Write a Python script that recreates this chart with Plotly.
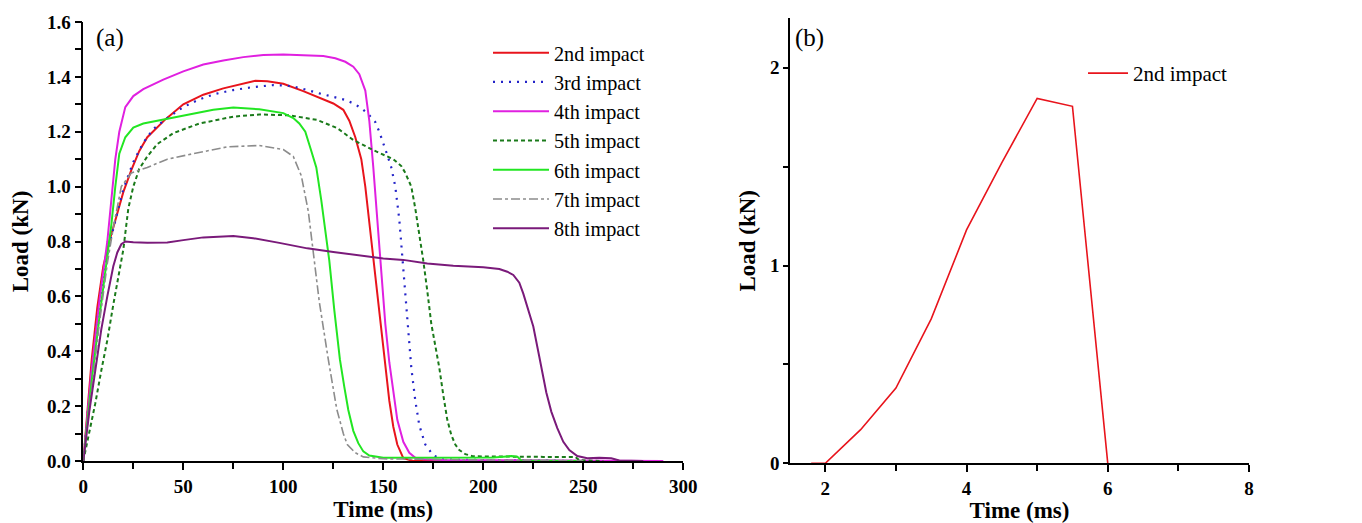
import plotly.graph_objects as go

# ---------------- Panel (a) data: Time (ms) vs Load (kN) ----------------
t_2nd = [0, 2, 4.2, 7, 10, 13, 16, 20, 24, 28, 32, 41, 50, 60, 70, 80, 86, 92, 100, 110, 118, 125, 130, 133, 136, 139, 141, 143, 145, 147, 149, 151, 153, 155, 157, 160, 165, 250]
L_2nd = [0, 0.18, 0.37, 0.56, 0.71, 0.8, 0.88, 0.98, 1.06, 1.13, 1.18, 1.245, 1.3, 1.335, 1.358, 1.376, 1.386, 1.384, 1.375, 1.348, 1.325, 1.303, 1.28, 1.24, 1.18, 1.1, 1.0, 0.87, 0.73, 0.6, 0.46, 0.33, 0.22, 0.125, 0.06, 0.01, 0.0, 0.0]

t_3rd = [0, 2, 4.5, 7, 10, 13, 16, 20, 25, 30, 35, 41, 50, 58, 66, 75, 85, 95, 102, 108, 118, 125, 131, 136, 140, 143, 146, 148, 150, 152, 154, 156, 158, 160, 162, 164, 166, 168, 171, 175, 180, 250]
L_3rd = [0, 0.16, 0.35, 0.52, 0.68, 0.79, 0.88, 0.99, 1.09, 1.16, 1.21, 1.245, 1.29, 1.318, 1.338, 1.352, 1.363, 1.37, 1.368, 1.36, 1.34, 1.328, 1.316, 1.3, 1.28, 1.26, 1.235, 1.2, 1.16, 1.115, 1.07, 1.0, 0.88, 0.7, 0.49, 0.34, 0.22, 0.13, 0.06, 0.02, 0.005, 0.0]

t_4th = [0, 4, 8, 12, 14, 16, 18, 21, 25, 30, 40, 50, 60, 70, 80, 90, 100, 110, 120, 126, 131, 135, 138, 141, 143, 145, 147, 149, 151, 153, 155, 157, 160, 163, 166, 170, 180, 250, 290]
L_4th = [0, 0.32, 0.58, 0.8, 0.95, 1.1, 1.2, 1.29, 1.33, 1.355, 1.39, 1.42, 1.445, 1.46, 1.472, 1.48, 1.482, 1.48, 1.476, 1.468, 1.455, 1.437, 1.41, 1.35, 1.24, 1.07, 0.88, 0.68, 0.5, 0.36, 0.25, 0.15, 0.07, 0.03, 0.012, 0.006, 0.004, 0.003, 0.0]

t_5th = [0, 3, 6, 9, 12, 15, 18, 20, 22.5, 25, 28, 32, 37, 45, 58, 75, 88, 103, 117, 127, 135, 145, 155, 159, 161, 164, 166, 168, 170, 172, 174, 176, 178, 180, 182, 184, 186, 188, 191, 195, 210, 230, 246, 248, 260]
L_5th = [0, 0.1, 0.21, 0.33, 0.44, 0.57, 0.69, 0.77, 0.92, 1.0, 1.065, 1.11, 1.155, 1.195, 1.23, 1.255, 1.263, 1.26, 1.243, 1.213, 1.17, 1.133, 1.1, 1.075, 1.05, 1.0, 0.92, 0.83, 0.73, 0.62, 0.5, 0.42, 0.34, 0.24, 0.15, 0.095, 0.06, 0.04, 0.025, 0.017, 0.015, 0.015, 0.015, 0.003, 0.0]

t_6th = [0, 4, 8, 12, 14, 16, 18, 21, 25, 30, 41, 52, 65, 75, 88, 100, 105, 108, 111, 114, 116.5, 119, 121, 123, 125.5, 128.3, 130.5, 132.5, 135, 137.5, 140, 143, 150, 170, 190, 205, 214, 217, 219, 250]
L_6th = [0, 0.28, 0.52, 0.74, 0.86, 1.0, 1.12, 1.18, 1.215, 1.23, 1.245, 1.262, 1.28, 1.288, 1.282, 1.268, 1.25, 1.23, 1.2, 1.13, 1.07, 0.95, 0.83, 0.73, 0.55, 0.37, 0.27, 0.186, 0.11, 0.065, 0.035, 0.02, 0.012, 0.012, 0.014, 0.013, 0.018, 0.016, 0.002, 0.0]

t_7th = [0, 4, 8, 12, 15, 19, 24, 32, 42, 55, 72, 88, 100, 105, 109, 112.5, 115, 118, 122.5, 126.7, 130, 132, 136, 140, 150, 200, 250]
L_7th = [0, 0.25, 0.5, 0.72, 0.85, 1.0, 1.05, 1.07, 1.1, 1.12, 1.145, 1.15, 1.135, 1.11, 1.04, 0.91, 0.75, 0.58, 0.37, 0.19, 0.1, 0.06, 0.03, 0.015, 0.008, 0.005, 0.0]

t_8th = [0, 3, 6, 9, 12, 15, 17, 19, 21, 25, 32, 42, 50, 60, 75, 85, 98, 112, 125, 140, 150, 160, 172, 185, 200, 208, 212, 215, 218, 220, 222.5, 225, 228, 231.5, 234, 237, 240, 243, 247, 252, 258, 264, 268, 280]
L_8th = [0, 0.18, 0.33, 0.48, 0.6, 0.71, 0.76, 0.79, 0.8, 0.797, 0.795, 0.796, 0.805, 0.815, 0.82, 0.812, 0.795, 0.775, 0.762, 0.748, 0.738, 0.733, 0.72, 0.712, 0.706, 0.7, 0.69, 0.678, 0.65, 0.61, 0.55, 0.49, 0.38, 0.25, 0.18, 0.12, 0.07, 0.04, 0.018, 0.01, 0.012, 0.01, 0.002, 0.0]

# ---------------- Panel (b) data ----------------
t_b = [1.8, 2.0, 2.5, 3.0, 3.5, 4.0, 4.5, 5.0, 5.5, 6.0]
L_b = [0, 0, 0.17, 0.38, 0.73, 1.18, 1.52, 1.845, 1.805, 0]

series_a = [
    ("2nd impact", t_2nd, L_2nd, "#e8141c", "solid", 2),
    ("3rd impact", t_3rd, L_3rd, "#2424c8", "2px,6px", 2.2),
    ("4th impact", t_4th, L_4th, "#e020e0", "solid", 2),
    ("5th impact", t_5th, L_5th, "#1a7a1a", "4px,3px", 2),
    ("6th impact", t_6th, L_6th, "#22e622", "solid", 2),
    ("7th impact", t_7th, L_7th, "#8c8c8c", "dashdot", 1.6),
    ("8th impact", t_8th, L_8th, "#7a1a7a", "solid", 2),
]

# page body has an 8px margin: figure origin sits at (8, 8) on screen
OFF = 8
W, H = 1362 - OFF, 523 - OFF
FONT = "Liberation Serif"

def fx(px):   # screen x -> paper fraction
    return (px - OFF) / W

def fy(py):   # screen y -> paper fraction (bottom-up)
    return 1 - (py - OFF) / H

fig = go.Figure()
for name, tx, ly, col, dash, w in series_a:
    fig.add_trace(go.Scatter(x=tx, y=ly, mode="lines", name=name,
                             line=dict(color=col, dash=dash, width=w),
                             xaxis="x", yaxis="y", legend="legend"))

fig.add_trace(go.Scatter(x=t_b, y=L_b, mode="lines", name="2nd impact",
                         line=dict(color="#e8141c", width=1.6),
                         xaxis="x2", yaxis="y2", legend="legend2"))

tickfont = dict(family=FONT, size=19, color="black", weight="bold")
titlefont = dict(family=FONT, size=23, color="black", weight="bold")

def xax(domain, rng, dtick, mdtick, anchor):
    return dict(domain=domain, range=rng, dtick=dtick, anchor=anchor, automargin=False,
                showline=True, linecolor="black", linewidth=1.5,
                ticks="outside", ticklen=7, tickwidth=1.5, tickcolor="black",
                minor=dict(dtick=mdtick, ticks="outside", ticklen=6, tickwidth=1.5, tickcolor="black", showgrid=False),
                showgrid=False, zeroline=False, tickfont=tickfont,
                title=dict(text="Time (ms)", font=titlefont, standoff=4))

def yax(domain, rng, dtick, mdtick, anchor, fmt, ticklen, standoff):
    return dict(domain=domain, range=rng, dtick=dtick, anchor=anchor, tickformat=fmt, automargin=False,
                showline=True, linecolor="black", linewidth=1.5,
                ticks="outside", ticklen=ticklen, tickwidth=1.5, tickcolor="black",
                minor=dict(dtick=mdtick, ticks="outside", ticklen=ticklen, tickwidth=1.5, tickcolor="black", showgrid=False),
                showgrid=False, zeroline=False, tickfont=tickfont,
                title=dict(text="Load (kN)", font=titlefont, standoff=standoff))

fig.update_layout(
    width=W, height=H,
    margin=dict(l=0, r=0, t=0, b=0, autoexpand=False),
    paper_bgcolor="white", plot_bgcolor="white",
    xaxis=xax([fx(83.3), fx(683.3)], [0, 300], 50, 25, "y"),
    yaxis=yax([fy(461), fy(22)], [0, 1.6], 0.2, 0.1, "x", ".1f", 7, 12),
    xaxis2=xax([fx(790), fx(1249)], [1.5, 8], 2, 1, "y2"),
    yaxis2=yax([fy(463.3), fy(18.3)], [0, 2.25], 1, 0.5, "x2", "d", 5, 8),
    legend=dict(x=fx(488), y=fy(33), xanchor="left", yanchor="top",
                font=dict(family=FONT, size=20.2, color="black"),
                bgcolor="rgba(0,0,0,0)", itemwidth=56, tracegroupgap=0),
    legend2=dict(x=fx(1083), y=fy(53), xanchor="left", yanchor="top",
                 font=dict(family=FONT, size=21, color="black"),
                 bgcolor="rgba(0,0,0,0)", itemwidth=40),
    showlegend=True,
    annotations=[
        dict(text="(a)", xref="paper", yref="paper", x=fx(94), y=fy(38),
             xanchor="left", yanchor="middle", showarrow=False,
             font=dict(family=FONT, size=25, color="black")),
        dict(text="(b)", xref="paper", yref="paper", x=fx(793), y=fy(38),
             xanchor="left", yanchor="middle", showarrow=False,
             font=dict(family=FONT, size=25, color="black")),
    ],
)

fig.write_html("out.html")
